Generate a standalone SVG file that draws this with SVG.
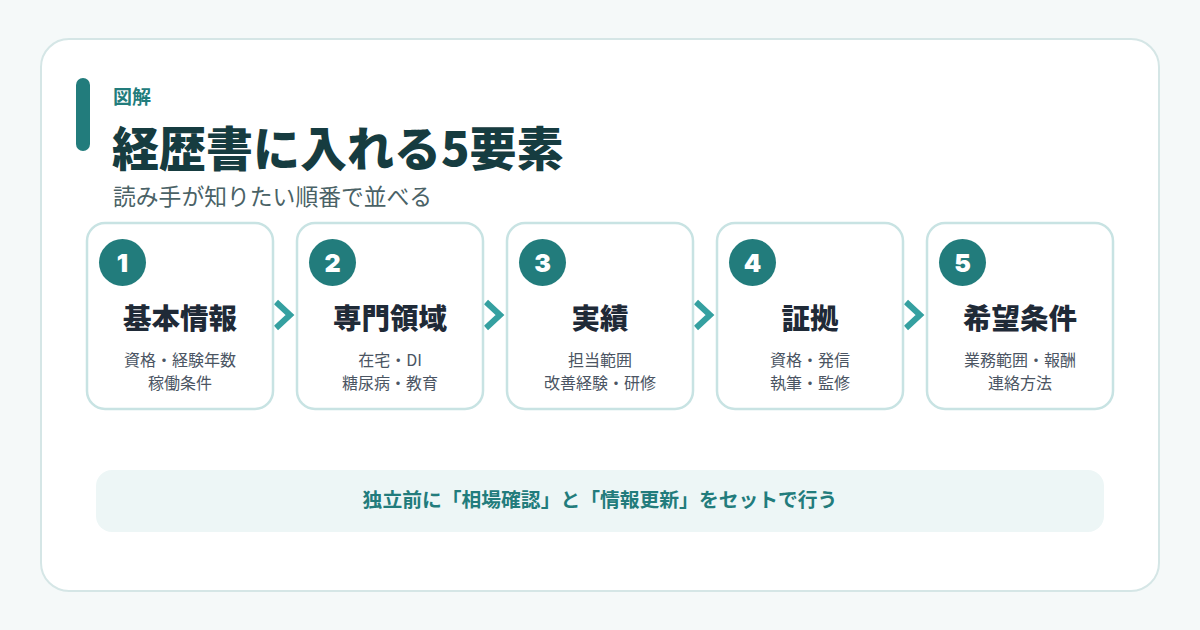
<svg xmlns="http://www.w3.org/2000/svg" width="1200" height="630" viewBox="0 0 1200 630">
<defs>
<style>
.jp{font-family:"Noto Sans CJK JP","Noto Sans",sans-serif}
.card{fill:#ffffff;stroke:#c8e3e3;stroke-width:2.5}
.num{fill:#227c7c}
.numt{fill:#ffffff;font-family:Inter,"Noto Sans",sans-serif;font-size:25px;font-weight:900;text-anchor:middle}
.ttl{fill:#1f2a37;font-size:28.5px;font-weight:900;text-anchor:middle}
.sub{fill:#4b5563;font-size:16px;text-anchor:middle}
.chev{fill:none;stroke:#35a0a0;stroke-width:6;stroke-linejoin:miter}
</style>
</defs>
<rect width="1200" height="630" fill="#f5f9f9"/>
<rect x="41" y="39" width="1118" height="552" rx="28" fill="#ffffff" stroke="#d5e6e6" stroke-width="2"/>
<g id="header">
<rect x="76" y="78" width="14" height="73" rx="7" fill="#227c7c"/>
<text x="113" y="104" class="jp" font-size="19" font-weight="700" fill="#227c7c">図解</text>
<text x="112" y="166" class="jp" font-size="47" font-weight="900" fill="#163c40">経歴書に入れる5要素</text>
<text x="113" y="205" class="jp" font-size="22.8" fill="#4a6266">読み手が知りたい順番で並べる</text>
</g>
<g id="connectors">
<path class="chev" d="M276,302 L290,315 L276,328"/>
<path class="chev" d="M486,302 L500,315 L486,328"/>
<path class="chev" d="M696,302 L710,315 L696,328"/>
<path class="chev" d="M906,302 L920,315 L906,328"/>
</g>
<g id="node1" class="jp">
<rect class="card" x="87" y="223" width="186" height="186" rx="18"/>
<circle class="num" cx="122.5" cy="262.5" r="23.5"/>
<text class="numt" x="122.5" y="271.5">1</text>
<text class="ttl" x="180" y="329">基本情報</text>
<text class="sub" x="180" y="366">資格・経験年数</text>
<text class="sub" x="180" y="389">稼働条件</text>
</g>
<g id="node2" class="jp">
<rect class="card" x="297" y="223" width="186" height="186" rx="18"/>
<circle class="num" cx="332.5" cy="262.5" r="23.5"/>
<text class="numt" x="332.5" y="271.5">2</text>
<text class="ttl" x="390" y="329">専門領域</text>
<text class="sub" x="390" y="366">在宅・DI</text>
<text class="sub" x="390" y="389">糖尿病・教育</text>
</g>
<g id="node3" class="jp">
<rect class="card" x="507" y="223" width="186" height="186" rx="18"/>
<circle class="num" cx="542.5" cy="262.5" r="23.5"/>
<text class="numt" x="542.5" y="271.5">3</text>
<text class="ttl" x="600" y="329">実績</text>
<text class="sub" x="600" y="366">担当範囲</text>
<text class="sub" x="600" y="389">改善経験・研修</text>
</g>
<g id="node4" class="jp">
<rect class="card" x="717" y="223" width="186" height="186" rx="18"/>
<circle class="num" cx="752.5" cy="262.5" r="23.5"/>
<text class="numt" x="752.5" y="271.5">4</text>
<text class="ttl" x="810" y="329">証拠</text>
<text class="sub" x="810" y="366">資格・発信</text>
<text class="sub" x="810" y="389">執筆・監修</text>
</g>
<g id="node5" class="jp">
<rect class="card" x="927" y="223" width="186" height="186" rx="18"/>
<circle class="num" cx="962.5" cy="262.5" r="23.5"/>
<text class="numt" x="962.5" y="271.5">5</text>
<text class="ttl" x="1020" y="329">希望条件</text>
<text class="sub" x="1020" y="366">業務範囲・報酬</text>
<text class="sub" x="1020" y="389">連絡方法</text>
</g>
<g id="note">
<rect x="96" y="470" width="1008" height="62" rx="16" fill="#edf6f6"/>
<text x="600" y="507" class="jp" font-size="19.8" font-weight="700" fill="#227c7c" text-anchor="middle">独立前に「相場確認」と「情報更新」をセットで行う</text>
</g>
</svg>
